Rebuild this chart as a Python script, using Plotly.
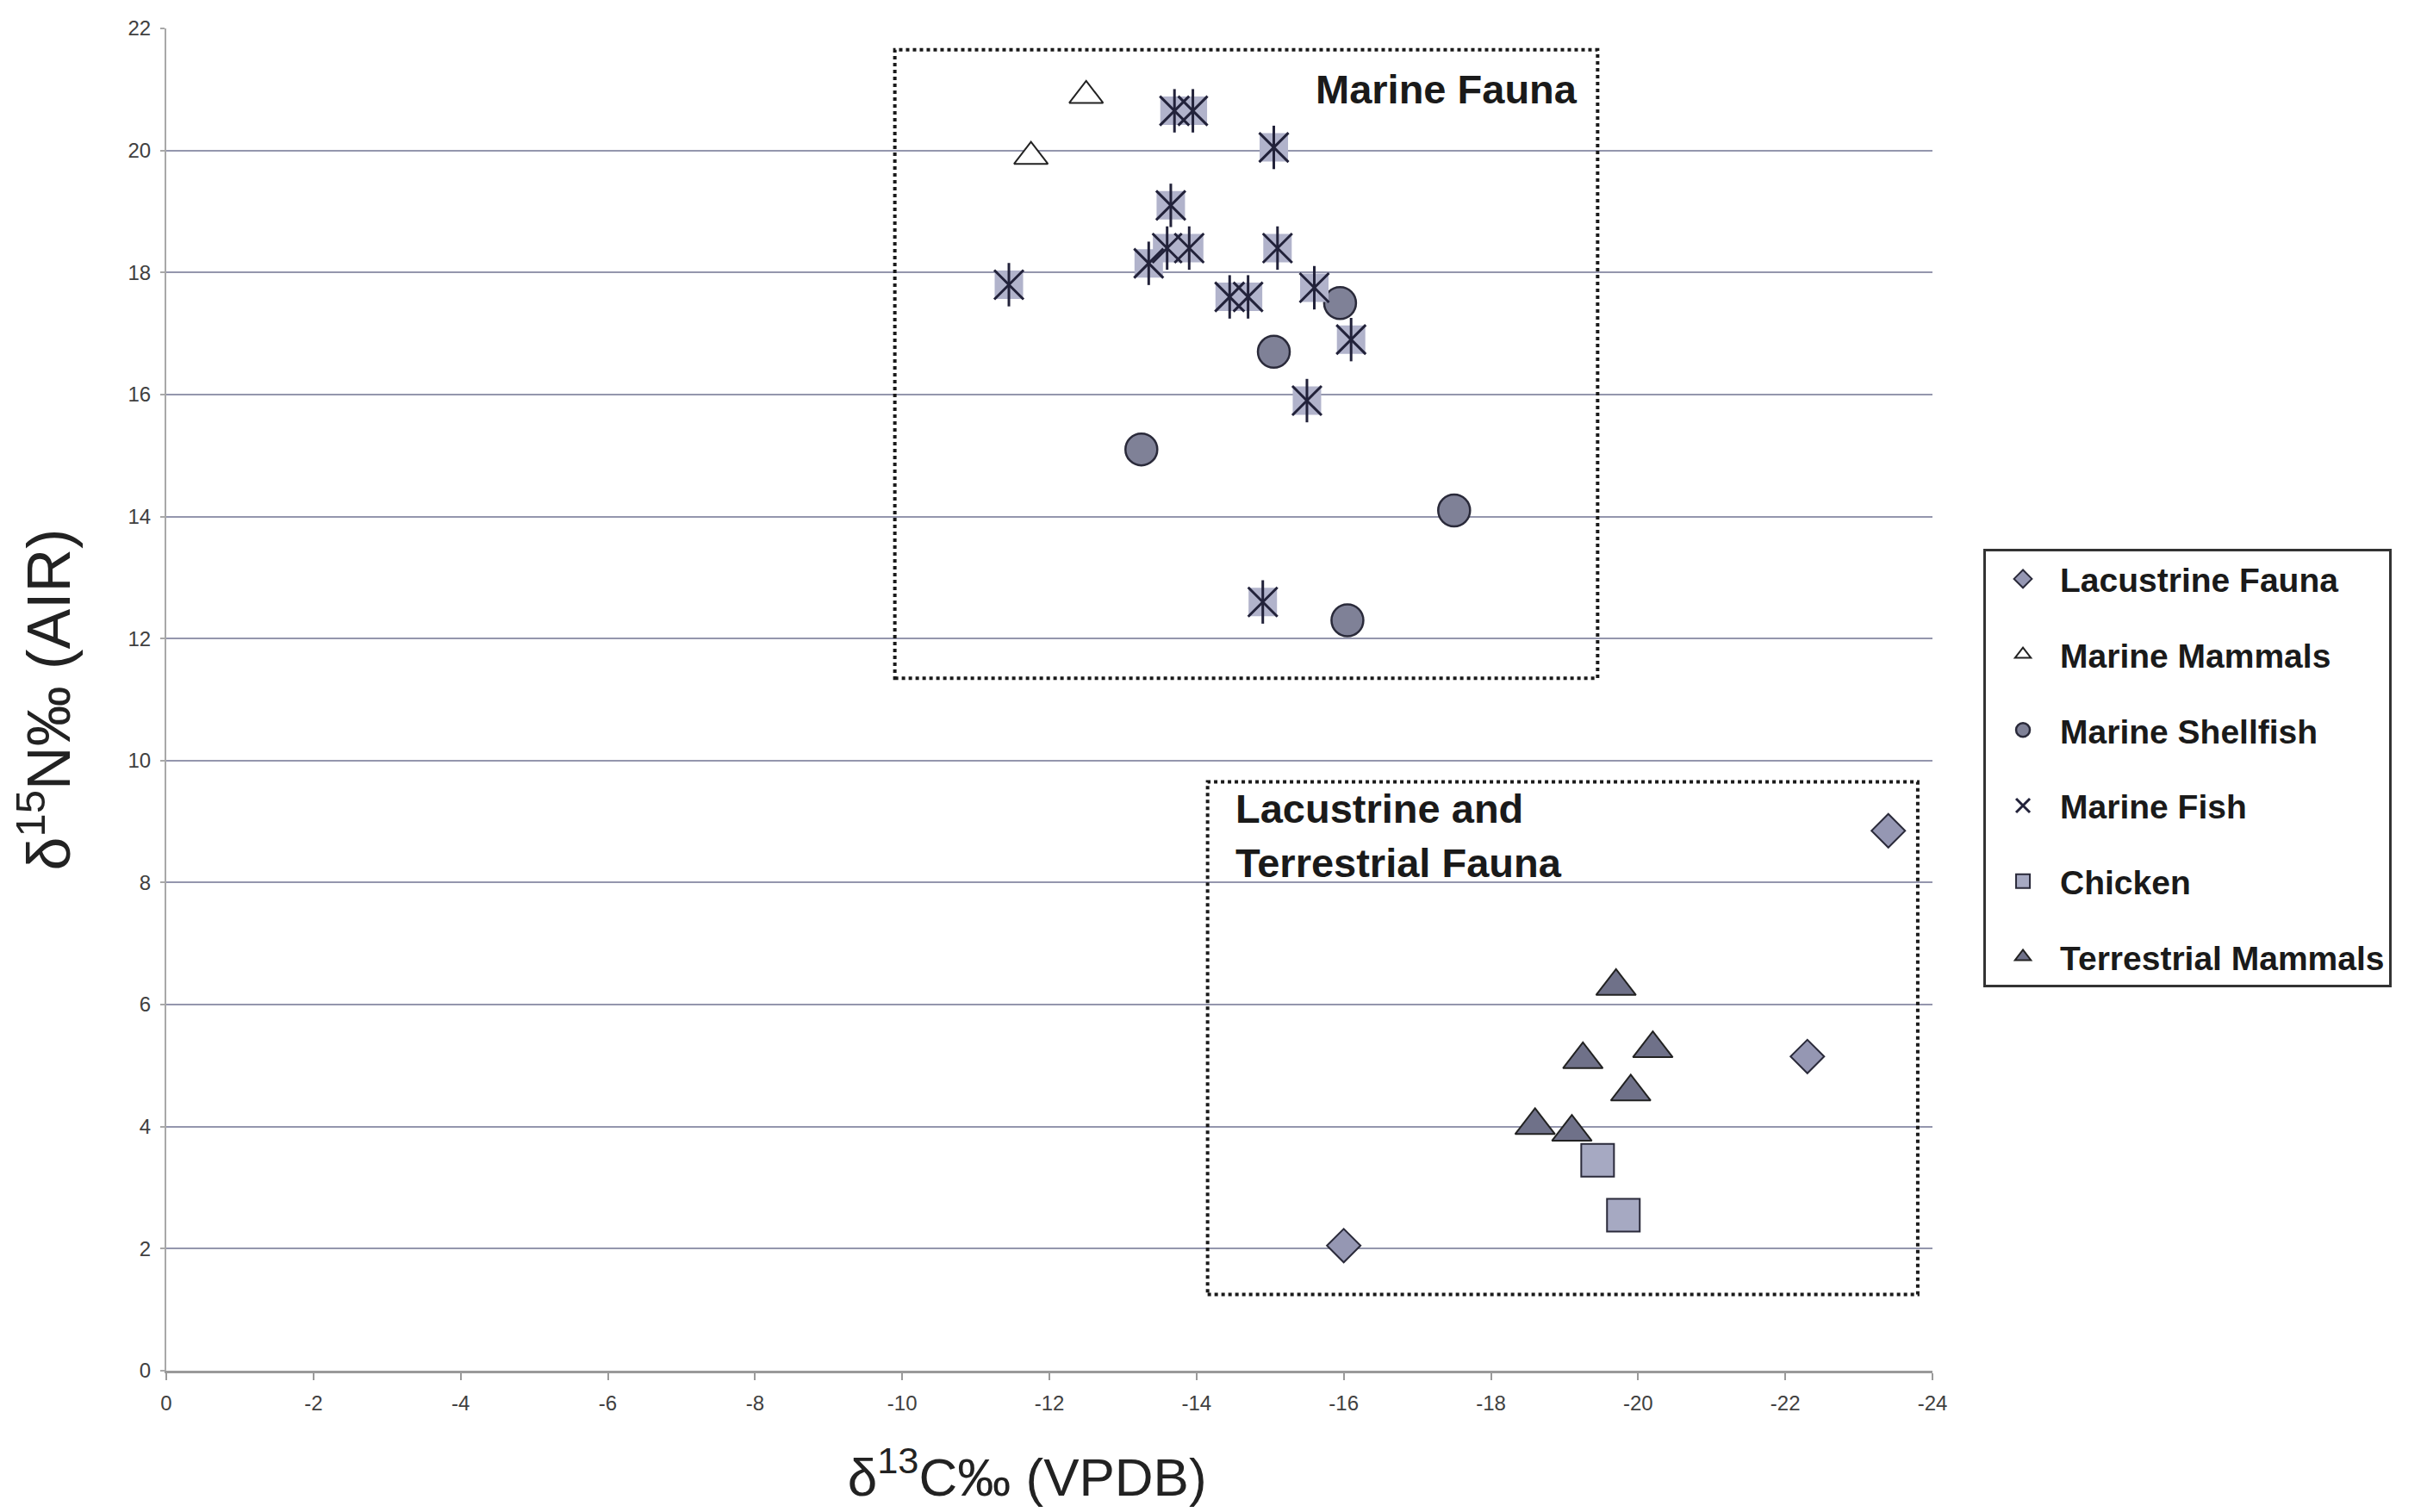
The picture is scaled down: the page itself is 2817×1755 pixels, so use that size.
import plotly.graph_objects as go

# ---------------- data ----------------
lac_x = [-23.4, -22.3, -16.0]
lac_y = [8.85, 5.15, 2.05]

mam_x = [-12.5, -11.75]
mam_y = [20.9, 19.9]

shell_x = [-15.95, -15.05, -13.25, -17.5, -16.05]
shell_y = [17.5, 16.7, 15.1, 14.1, 12.3]

fish_x = [-11.45, -13.7, -13.95, -15.05, -13.65, -13.6, -13.9, -13.35,
          -15.1, -14.45, -14.7, -15.6, -16.1, -15.5, -14.9]
fish_y = [17.8, 20.65, 20.65, 20.05, 19.1, 18.4, 18.4, 18.15,
          18.4, 17.6, 17.6, 17.75, 16.9, 15.9, 12.6]

chick_x = [-19.45, -19.8]
chick_y = [3.45, 2.55]

terr_x = [-19.7, -19.25, -20.2, -19.9, -18.6, -19.1]
terr_y = [6.3, 5.1, 5.28, 4.57, 4.02, 3.91]

x_tickvals = [0, -2, -4, -6, -8, -10, -12, -14, -16, -18, -20, -22, -24]
x_ticktext = ["0", "-2", "-4", "-6", "-8", "-10", "-12", "-14", "-16", "-18", "-20", "-22", "-24"]
y_tickvals = [0, 2, 4, 6, 8, 10, 12, 14, 16, 18, 20, 22]

# group boxes (x0, x1, y0, y1) and their labels
marine_box = (-9.9, -19.45, 11.35, 21.65)
lact_box = (-14.15, -23.8, 1.25, 9.65)
marine_label = ("Marine Fauna", -19.2, 21.0)
lact_label1 = ("Lacustrine and", -14.5, 9.22)
lact_label2 = ("Terrestrial Fauna", -14.5, 8.33)

# ---------------- figure ----------------
EDGE = "#2a2a3a"
DARK = "#22223a"
fig = go.Figure()

fig.add_trace(go.Scatter(
    x=lac_x, y=lac_y, mode="markers", name="<b>Lacustrine Fauna</b>",
    legendgroup="a",
    marker=dict(symbol="diamond", size=30, color="#9597b3",
                line=dict(color=EDGE, width=2))))

fig.add_trace(go.Scatter(
    x=mam_x, y=mam_y, mode="markers", name="<b>Marine Mammals</b>",
    legendgroup="b",
    marker=dict(symbol="triangle-up", size=34, color="white",
                line=dict(color="#222222", width=2))))

fig.add_trace(go.Scatter(
    x=shell_x, y=shell_y, mode="markers", name="<b>Marine Shellfish</b>",
    legendgroup="c",
    marker=dict(symbol="circle", size=37, color="#7f8197",
                line=dict(color=EDGE, width=2.5))))

# Marine fish: light square with a dark six-armed asterisk on top
fig.add_trace(go.Scatter(
    x=fish_x, y=fish_y, mode="markers", name="<b>Marine Fish</b>",
    legendgroup="d", showlegend=False, hoverinfo="skip",
    marker=dict(symbol="square", size=33, color="#b1b3cb",
                line=dict(width=0))))
fig.add_trace(go.Scatter(
    x=fish_x, y=fish_y, mode="markers", name="<b>Marine Fish</b>",
    legendgroup="d", showlegend=False, hoverinfo="skip",
    marker=dict(symbol="line-ns-open", size=36, color=DARK,
                line=dict(color=DARK, width=3))))
fig.add_trace(go.Scatter(
    x=fish_x, y=fish_y, mode="markers", name="<b>Marine Fish</b>",
    legendgroup="d",
    marker=dict(symbol="x-thin-open", size=34, color=DARK,
                line=dict(color=DARK, width=3))))

fig.add_trace(go.Scatter(
    x=chick_x, y=chick_y, mode="markers", name="<b>Chicken</b>",
    legendgroup="e",
    marker=dict(symbol="square", size=38, color="#a6a9c2",
                line=dict(color=EDGE, width=2))))

fig.add_trace(go.Scatter(
    x=terr_x, y=terr_y, mode="markers", name="<b>Terrestrial Mammals</b>",
    legendgroup="f",
    marker=dict(symbol="triangle-up", size=40, color="#6f7189",
                line=dict(color="#222222", width=2))))

# dotted group boxes
for bx in (marine_box, lact_box):
    fig.add_shape(type="rect", xref="x", yref="y",
                  x0=bx[0], x1=bx[1], y0=bx[2], y1=bx[3],
                  line=dict(color="#1a1a1a", width=4, dash="dot"),
                  fillcolor="rgba(0,0,0,0)", layer="above")

ANN_FONT = dict(family="Liberation Sans, Arial, sans-serif", size=47, color="#1a1a1a")
fig.add_annotation(x=marine_label[1], y=marine_label[2], text="<b>%s</b>" % marine_label[0],
                   xref="x", yref="y", xanchor="right", yanchor="middle",
                   showarrow=False, font=ANN_FONT)
for lab in (lact_label1, lact_label2):
    fig.add_annotation(x=lab[1], y=lab[2], text="<b>%s</b>" % lab[0],
                       xref="x", yref="y", xanchor="left", yanchor="middle",
                       showarrow=False, font=ANN_FONT)

TICK_FONT = dict(family="Liberation Sans, Arial, sans-serif", size=24, color="#404040")

fig.update_layout(
    width=2817, height=1755,
    margin=dict(l=185, r=582, t=25, b=172),
    paper_bgcolor="white", plot_bgcolor="white",
    font=dict(family="Liberation Sans, Arial, sans-serif", color="#222"),
    showlegend=True,
    legend=dict(
        x=1.0288, y=0.6123, xanchor="left", yanchor="top",
        bordercolor="#333333", borderwidth=3, bgcolor="white",
        font=dict(family="Liberation Sans, Arial, sans-serif", size=39, color="#1a1a1a"),
        tracegroupgap=34, itemwidth=76, traceorder="grouped",
    ),
    xaxis=dict(
        range=[0, -24], tickmode="array", tickvals=x_tickvals, ticktext=x_ticktext,
        showgrid=False, zeroline=False,
        showline=True, linecolor="#9a9a9a", linewidth=3,
        ticks="outside", ticklen=8, tickwidth=2, tickcolor="#9a9a9a",
        ticklabelstandoff=6,
        tickfont=TICK_FONT,
        title=dict(text="δ<sup>13</sup>C‰ (VPDB)&nbsp;&nbsp;&nbsp;", standoff=52,
                   font=dict(family="Liberation Sans, Arial, sans-serif", size=62, color="#222")),
    ),
    yaxis=dict(
        range=[0, 22], tickmode="array", tickvals=y_tickvals,
        showgrid=True, gridcolor="#9496ad", gridwidth=2, zeroline=False,
        showline=True, linecolor="#a8a8a8", linewidth=2,
        ticks="outside", ticklen=5, tickwidth=2, tickcolor="#a8a8a8",
        ticklabelstandoff=6,
        tickfont=TICK_FONT,
        title=dict(text="δ<sup>15</sup>N‰ (AIR)", standoff=66,
                   font=dict(family="Liberation Sans, Arial, sans-serif", size=70, color="#222")),
    ),
)

fig.write_html("out.html")
